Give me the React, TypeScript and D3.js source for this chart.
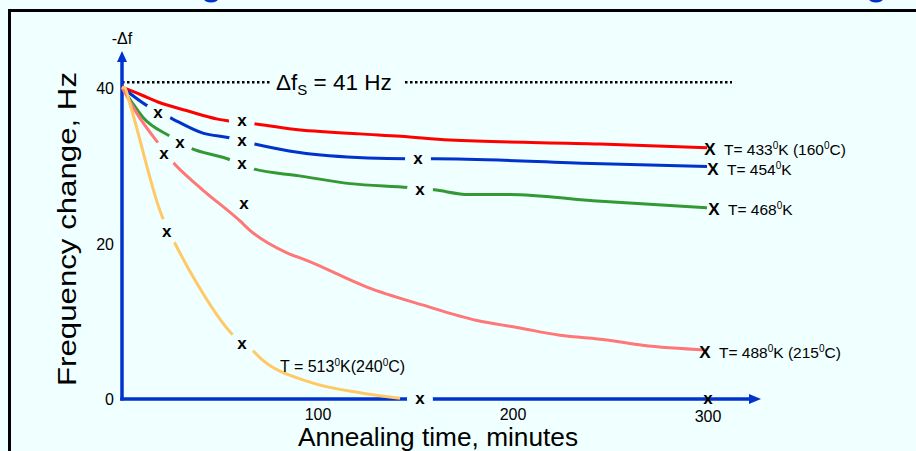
import React from 'react';
import * as d3 from 'd3';

const W = 916;
const H = 451;

// Tick labels
const timeTicks = [100, 200, 300];
const valueTicks = [0, 20, 40];

// Saturation level
const saturation = 41;

// Series values [time (min), -Δf (Hz)]
const red433 = [[0, 40.1], [10, 39.1], [19.5, 38.1], [33, 37.1], [49, 36.0], [68, 35.4], [88, 34.7], [122, 34.1], [143, 33.8], [168, 33.3], [245, 32.8], [300, 32.3]];
const blue454 = [[0, 40.1], [13, 37.7], [24.6, 36.2], [41.5, 34.2], [55, 33.6], [68, 32.8], [91, 31.7], [126, 31.0], [146, 30.9], [160, 30.9], [241, 30.3], [300, 29.9]];
const green468 = [[0, 40.1], [5, 38.2], [10.8, 36.2], [24.6, 33.8], [35, 32.3], [54, 30.9], [66, 29.7], [91, 28.7], [117, 27.7], [147, 27.2], [160, 26.9], [178, 26.3], [199, 26.3], [241.5, 25.5], [300, 24.6]];
const pink488 = [[0, 40.1], [7.7, 36.7], [19.5, 32.6], [25.6, 30.6], [40, 27.2], [60.5, 22.9], [65.6, 21.7], [84.6, 18.8], [95, 17.8], [125.6, 14.4], [154, 12.1], [182, 10.1], [202.6, 9.2], [224.6, 8.2], [248.7, 7.6], [267, 6.9], [300, 6.3]];
const yellow513 = [[0, 40.1], [1.5, 40], [4, 38], [19.5, 24.2], [21, 23.2], [27, 20.1], [37.4, 15.3], [57, 8.2], [66.7, 6.3], [70.8, 5.3], [96, 2.2], [122, 0.8], [142.6, 0.1]];

// Measurement points ("x") that interrupt a curve
const gapMarkers = [
  { series: 'blue', t: 18.5, v: 36.8 },
  { series: 'green', t: 29.7, v: 32.9 },
  { series: 'pink', t: 21.5, v: 31.5 },
  { series: 'red', t: 61.5, v: 35.8 },
  { series: 'blue', t: 61.5, v: 33.2 },
  { series: 'green', t: 61.5, v: 30.2 },
  { series: 'yellow', t: 23, v: 21.5 },
  { series: 'blue', t: 151.8, v: 30.9 },
  { series: 'green', t: 152.8, v: 26.9 },
  { series: 'yellow', t: 61.5, v: 7.1 },
  { series: 'axis', t: 152.8, v: 0 },
];
// Free-standing measurement points
const freeMarkers = [
  { t: 62.6, v: 25.1 },
  { t: 300.5, v: 0 },
];

const seriesDefs = [
  { key: 'red', data: red433, color: '#FF0000', label: 'T= 433', tail: 'K (160', tail2: 'C)', endDx: 3, endDy: 1 },
  { key: 'blue', data: blue454, color: '#0033CC', label: 'T= 454', tail: 'K', tail2: '', endDx: 6, endDy: 2.5 },
  { key: 'green', data: green468, color: '#339933', label: 'T= 468', tail: 'K', tail2: '', endDx: 7, endDy: 1.5 },
  { key: 'pink', data: pink488, color: '#FF7777', label: 'T= 488', tail: 'K (215', tail2: 'C)', endDx: -2, endDy: 2 },
  { key: 'yellow', data: yellow513, color: '#FFC966', label: '', tail: '', tail2: '', endDx: 0, endDy: 0 },
];

const FONT = '"Liberation Sans", Arial, Helvetica, sans-serif';
const AXIS = '#0033CC';
const BG = '#F0FFFF';

export default function App() {
  const x = d3.scaleLinear().domain([0, 300]).range([122, 707]);
  const y = d3.scaleLinear().domain([0, 40]).range([399, 88]);
  const line = d3
    .line<number[]>()
    .x((d) => x(d[0]))
    .y((d) => y(d[1]))
    .curve(d3.curveMonotoneX);

  const masks = [...seriesDefs.map((s) => s.key), 'axis'];

  const sup = (txt: string) => (
    <tspan fontSize={10} dy={-6}>{txt}</tspan>
  );

  return (
    <svg
      width={W}
      height={H}
      viewBox={`0 0 ${W} ${H}`}
      style={{ position: 'fixed', left: 0, top: 0, display: 'block' }}
      fontFamily={FONT}
    >
      <defs>
        {masks.map((k) => (
          <mask id={`gap-${k}`} key={k} maskUnits="userSpaceOnUse" x={0} y={0} width={W} height={H}>
            <rect x={0} y={0} width={W} height={H} fill="white" />
            {gapMarkers
              .filter((m) => m.series === k)
              .map((m, i) => (
                <circle key={i} cx={x(m.t)} cy={y(m.v)} r={13} fill="black" />
              ))}
          </mask>
        ))}
      </defs>
      <rect x={0} y={0} width={W} height={H} fill={BG} />
      {/* cut-off title descenders */}
      <ellipse cx={211} cy={-1} rx={7} ry={3.5} fill={AXIS} />
      <ellipse cx={876} cy={-1} rx={7} ry={3.5} fill={AXIS} />
      {/* frame */}
      <rect x={9.5} y={10.5} width={1000} height={1000} fill="none" stroke="#000" strokeWidth={3} />

      {/* saturation dotted line */}
      <line x1={x(0)} x2={270} y1={y(saturation) + 2} y2={y(saturation) + 2} stroke="#000" strokeWidth={2.5} strokeDasharray="2.5 2.5" />
      <line x1={405} x2={732} y1={y(saturation) + 2} y2={y(saturation) + 2} stroke="#000" strokeWidth={2.5} strokeDasharray="2.5 2.5" />
      <text x={276} y={y(saturation) + 10} fontSize={22.5} fill="#000">
        Δf<tspan fontSize={15} dy={5}>S</tspan>
        <tspan dy={-5}>{` = ${saturation} Hz`}</tspan>
      </text>

      {/* axes */}
      <line x1={x(0)} x2={x(0)} y1={y(0) + 1.5} y2={60} stroke={AXIS} strokeWidth={3.5} />
      <path d={`M${x(0)},51 L${x(0) - 5},62 L${x(0) + 5},62 Z`} fill={AXIS} />
      <line x1={x(0) - 1.75} x2={751} y1={y(0)} y2={y(0)} stroke={AXIS} strokeWidth={3.5} mask="url(#gap-axis)" />
      <path d={`M761,${y(0)} L749,${y(0) - 5} L749,${y(0) + 5} Z`} fill={AXIS} />

      <text x={x(0)} y={44} fontSize={16} textAnchor="middle" fill="#000">-Δf</text>

      {valueTicks.map((v) => (
        <text key={v} x={114} y={y(v) + 6} fontSize={16} textAnchor="end" fill="#000">{v}</text>
      ))}
      {timeTicks.map((t, i) => (
        <text key={t} x={x(t) + 1} y={i === 2 ? 422 : 419.5} fontSize={16} textAnchor="middle" fill="#000">{t}</text>
      ))}

      <text
        x={438}
        y={446}
        fontSize={25}
        textAnchor="middle"
        textLength={280}
        lengthAdjust="spacingAndGlyphs"
        fill="#000"
      >
        Annealing time, minutes
      </text>
      <text
        transform="translate(76,229) rotate(-90)"
        fontSize={26}
        textAnchor="middle"
        textLength={314}
        lengthAdjust="spacingAndGlyphs"
        fill="#000"
      >
        Frequency change, Hz
      </text>

      {/* curves */}
      {seriesDefs.map((s) => (
        <path
          key={s.key}
          d={line(s.data as number[][]) || ''}
          fill="none"
          stroke={s.color}
          strokeWidth={3}
          strokeLinejoin="round"
          mask={`url(#gap-${s.key})`}
        />
      ))}

      {/* measurement markers */}
      {[...gapMarkers, ...freeMarkers].map((m, i) => (
        <text key={i} x={x(m.t)} y={y(m.v) + 5} fontSize={17} fontWeight="bold" textAnchor="middle" fill="#000">x</text>
      ))}

      {/* end markers and labels */}
      {seriesDefs
        .filter((s) => s.label)
        .map((s) => {
          const last = s.data[s.data.length - 1];
          const cx = x(last[0]) + s.endDx;
          const cy = y(last[1]) + s.endDy;
          return (
            <g key={s.key}>
              <text x={cx} y={cy + 6} fontSize={17} fontWeight="bold" textAnchor="middle" fill="#000">X</text>
              <text x={cx + 14} y={cy + 6} fontSize={15.5} fill="#000">
                {s.label}
                {sup('0')}
                <tspan dy={6}>{s.tail}</tspan>
                {s.tail2 ? sup('0') : null}
                {s.tail2 ? <tspan dy={6}>{s.tail2}</tspan> : null}
              </text>
            </g>
          );
        })}
      <text x={280} y={372} fontSize={16} fill="#000">
        T = 513{sup('0')}
        <tspan dy={6}>K(240</tspan>
        {sup('0')}
        <tspan dy={6}>C)</tspan>
      </text>
    </svg>
  );
}
